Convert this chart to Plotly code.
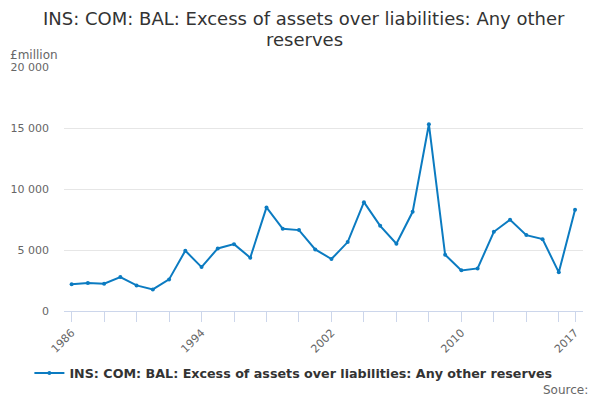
import plotly.graph_objects as go

# valores (£ milhões)
years = list(range(1986, 2018))
reserves = [2200, 2290, 2240, 2780, 2100, 1770, 2590, 4940, 3600, 5130,
            5480, 4370, 8490, 6740, 6630, 5050, 4260, 5650, 8920, 6980,
            5510, 8130, 15310, 4610, 3330, 3490, 6490, 7480, 6220, 5890,
            3170, 8290]

tick_years = list(range(1986, 2017, 2)) + [2017]
labelled = [1986, 1994, 2002, 2010, 2017]
tick_text = [str(y) if y in labelled else "" for y in tick_years]
y_ticks = [0, 5000, 10000, 15000, 20000]

series_name = "INS: COM: BAL: Excess of assets over liabilities: Any other reserves"
title_lines = ["INS: COM: BAL: Excess of assets over liabilities: Any other", "reserves"]
blue = "#0b7bc1"
grey = "#666666"
font_family = "DejaVu Sans"

# a página tem margem de 8px no body, por isso a figura é um pouco menor
W, H = 592, 392
M = dict(l=56, r=17, t=59, b=89)
plot_w = W - M["l"] - M["r"]
centre_x = (W / 2 - M["l"]) / plot_w  # centro da figura em coordenadas paper

fig = go.Figure()
fig.add_trace(go.Scatter(
    x=years,
    y=reserves,
    mode="lines+markers",
    name=series_name,
    line=dict(color=blue, width=2),
    marker=dict(color=blue, size=4),
))

# título em duas anotações para controlar o espaçamento entre linhas
title_annots = [
    dict(text=line, xref="paper", yref="paper",
         x=centre_x, y=1.0, yshift=shift, xanchor="center", yanchor="middle",
         showarrow=False, font=dict(size=18, color="#333333"))
    for line, shift in zip(title_lines, [49, 28])
]

fig.update_layout(
    width=W,
    height=H,
    margin=M,
    paper_bgcolor="white",
    plot_bgcolor="white",
    separators=". ",
    font=dict(family=font_family, color="#333333"),
    showlegend=True,
    legend=dict(
        orientation="h",
        x=0.442, xanchor="center",
        y=-0.255, yanchor="middle",
        itemwidth=30,
        font=dict(size=12.7, color="#333333", weight="bold"),
    ),
    xaxis=dict(
        range=[1985.53, 2017.49],
        tickmode="array",
        tickvals=tick_years,
        ticktext=tick_text,
        tickangle=-45,
        ticks="outside",
        ticklen=10,
        tickcolor="#ccd6eb",
        showline=True,
        linecolor="#ccd6eb",
        showgrid=False,
        zeroline=False,
        automargin=False,
        tickfont=dict(size=11, color=grey),
    ),
    yaxis=dict(
        range=[0, 20000],
        tickmode="array",
        tickvals=y_ticks,
        tickformat=",d",
        showgrid=True,
        gridcolor="#e6e6e6",
        zeroline=False,
        automargin=False,
        ticklabelstandoff=14,
        tickfont=dict(size=11, color=grey),
    ),
    annotations=title_annots + [
        dict(text="£million", xref="paper", yref="paper",
             x=-0.108, y=1.05, xanchor="left", yanchor="middle",
             showarrow=False, font=dict(size=12, color=grey)),
        dict(text="Source:", xref="paper", yref="paper",
             x=1, xshift=7, y=-0.325, xanchor="right", yanchor="middle",
             showarrow=False, font=dict(size=12, color=grey)),
    ],
)

fig.write_html("out.html")
